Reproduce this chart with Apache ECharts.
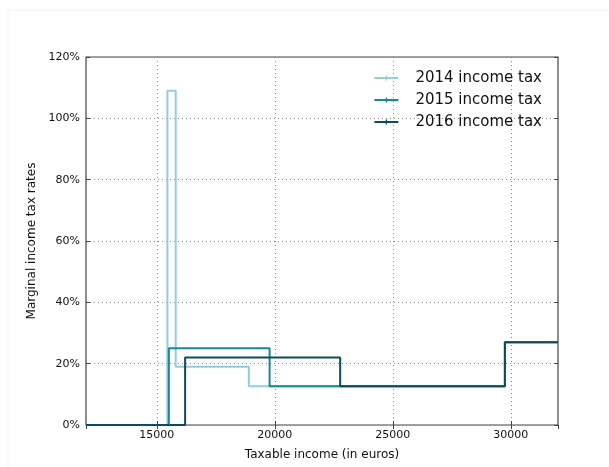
<!DOCTYPE html>
<html>
<head>
<meta charset="utf-8">
<script src="https://cdn.jsdelivr.net/npm/echarts@6/dist/echarts.min.js"></script>
<style>
  html, body { margin: 0; padding: 0; background: #fff; }
  #chart { width: 609px; height: 467px; }
</style>
</head>
<body>
<div id="chart"></div>
<script>
// break points (euros) and marginal rates (%) for each year
var income2014 = [12000, 15450, 15800, 18900, 29750, 32000]
var rate2014 = [0, 109, 19, 12.6, 27, 27]
var income2015 = [12000, 15510, 19780, 29750, 32000]
var rate2015 = [0, 25, 12.6, 27, 27]
var income2016 = [12000, 16200, 22770, 29750, 32000]
var rate2016 = [0, 22, 12.6, 27, 27]
var seriesNames = ['2014 income tax', '2015 income tax', '2016 income tax']
var colors = ['#8fcfdf', '#17879a', '#0c4c61']

function pairs (xs, ys) {
  return xs.map(function (x, i) { return [x, ys[i]] })
}

var font = 'DejaVu Sans'
var chart = echarts.init(document.getElementById('chart'))

function stepSeries (idx, xs, ys) {
  return {
    name: seriesNames[idx],
    type: 'line',
    step: 'end',
    showSymbol: false,
    symbol: 'none',
    data: pairs(xs, ys),
    lineStyle: { width: 2, color: colors[idx] },
    itemStyle: { color: colors[idx] },
    z: 3 + idx
  }
}

var xCommon = {
  type: 'value',
  min: 12000,
  max: 32000,
  minInterval: 5000,
  maxInterval: 5000
}
var yCommon = {
  type: 'value',
  min: 0,
  max: 120,
  interval: 20
}

chart.setOption({
  animation: false,
  backgroundColor: '#fff',
  textStyle: { fontFamily: font },
  graphic: [{
    type: 'rect',
    shape: { x: 8, y: 10, width: 640, height: 500 },
    style: { fill: 'none', stroke: '#f3f3f3', lineWidth: 1 },
    silent: true
  }],
  grid: {
    left: 86,
    right: 51,
    top: 57,
    bottom: 42,
    show: true,
    borderColor: '#444',
    borderWidth: 1.2,
    backgroundColor: 'transparent'
  },
  legend: {
    orient: 'vertical',
    right: 62,
    top: 65,
    itemWidth: 24,
    itemHeight: 5,
    itemGap: 6,
    icon: 'path://M0,1.5h24v2h-24z M11.3,0h1.4v5h-1.4z',
    textStyle: { fontFamily: font, fontSize: 15, color: '#111', lineHeight: 16, padding: [0, 0, 0, 12] },
    data: seriesNames
  },
  xAxis: [
    Object.assign({}, xCommon, {
      position: 'bottom',
      name: 'Taxable income (in euros)',
      nameLocation: 'middle',
      nameGap: 24,
      nameTextStyle: { fontFamily: font, fontSize: 12, color: '#111' },
      axisLine: { show: false },
      axisTick: { show: true, inside: true, length: 4, lineStyle: { color: '#444' } },
      axisLabel: {
        fontFamily: font, fontSize: 11, color: '#111', margin: 5,
        showMinLabel: false, showMaxLabel: false,
        formatter: function (v) { return String(v) }
      },
      splitLine: { show: true, lineStyle: { type: [1, 3], color: '#888', width: 1 } }
    }),
    Object.assign({}, xCommon, {
      position: 'top',
      axisLine: { show: false },
      axisTick: { show: true, inside: true, length: 4, lineStyle: { color: '#444' } },
      axisLabel: { show: false },
      splitLine: { show: false }
    })
  ],
  yAxis: [
    Object.assign({}, yCommon, {
      position: 'left',
      name: 'Marginal income tax rates',
      nameLocation: 'middle',
      nameGap: 45,
      nameTextStyle: { fontFamily: font, fontSize: 12, color: '#111' },
      axisLine: { show: false },
      axisTick: { show: true, inside: true, length: 4, lineStyle: { color: '#444' } },
      axisLabel: {
        fontFamily: font, fontSize: 11, color: '#111', margin: 6,
        formatter: function (v) { return v + '%' }
      },
      splitLine: { show: true, lineStyle: { type: [1, 3], color: '#888', width: 1 } }
    }),
    Object.assign({}, yCommon, {
      position: 'right',
      axisLine: { show: false },
      axisTick: { show: true, inside: true, length: 4, lineStyle: { color: '#444' } },
      axisLabel: { show: false },
      splitLine: { show: false }
    })
  ],
  series: [
    stepSeries(0, income2014, rate2014),
    stepSeries(1, income2015, rate2015),
    stepSeries(2, income2016, rate2016)
  ]
})
</script>
</body>
</html>
